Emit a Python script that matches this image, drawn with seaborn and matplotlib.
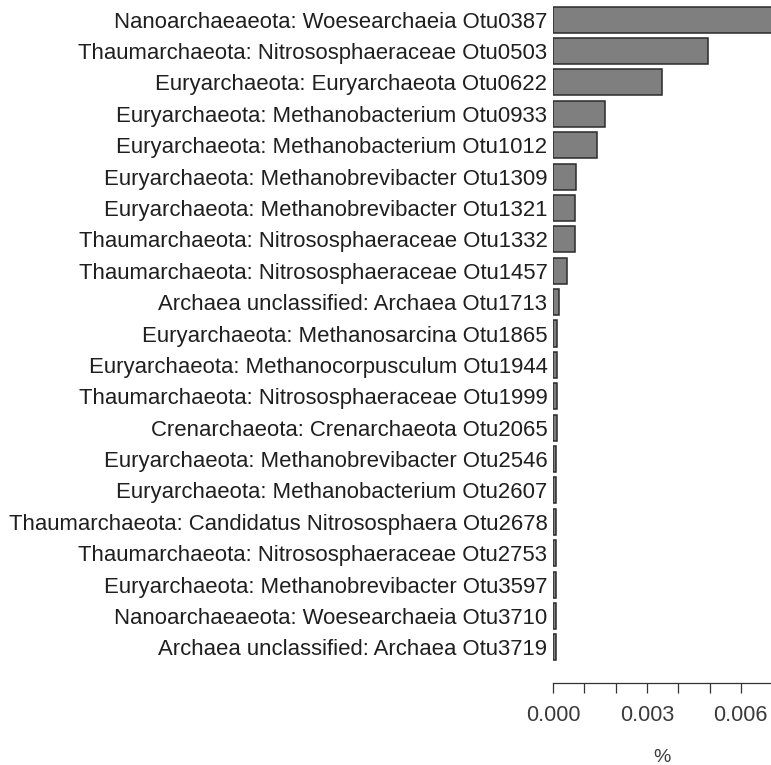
import matplotlib
matplotlib.use("Agg")
import matplotlib.pyplot as plt
import numpy as np
import pandas as pd
import seaborn as sns

taxa = [
    "Nanoarchaeaeota: Woesearchaeia Otu0387",
    "Thaumarchaeota: Nitrososphaeraceae Otu0503",
    "Euryarchaeota: Euryarchaeota Otu0622",
    "Euryarchaeota: Methanobacterium Otu0933",
    "Euryarchaeota: Methanobacterium Otu1012",
    "Euryarchaeota: Methanobrevibacter Otu1309",
    "Euryarchaeota: Methanobrevibacter Otu1321",
    "Thaumarchaeota: Nitrososphaeraceae Otu1332",
    "Thaumarchaeota: Nitrososphaeraceae Otu1457",
    "Archaea unclassified: Archaea Otu1713",
    "Euryarchaeota: Methanosarcina Otu1865",
    "Euryarchaeota: Methanocorpusculum Otu1944",
    "Thaumarchaeota: Nitrososphaeraceae Otu1999",
    "Crenarchaeota: Crenarchaeota Otu2065",
    "Euryarchaeota: Methanobrevibacter Otu2546",
    "Euryarchaeota: Methanobacterium Otu2607",
    "Thaumarchaeota: Candidatus Nitrososphaera Otu2678",
    "Thaumarchaeota: Nitrososphaeraceae Otu2753",
    "Euryarchaeota: Methanobrevibacter Otu3597",
    "Nanoarchaeaeota: Woesearchaeia Otu3710",
    "Archaea unclassified: Archaea Otu3719",
]
abundance = [
    0.0072, 0.00494, 0.00347, 0.00167, 0.00141, 0.00072, 0.00069,
    0.00069, 0.00046, 0.00020, 0.00014, 0.00014, 0.00014, 0.00014,
    0.00010, 0.00010, 0.00010, 0.00010, 0.00010, 0.00010, 0.00010,
]
x_ticks = [0.000, 0.001, 0.002, 0.003, 0.004, 0.005, 0.006]
x_tick_labels = ["0.000", "", "", "0.003", "", "", "0.006"]
x_label = "%"

sns.set_theme(style="white")
plt.rcParams["font.family"] = ["Liberation Sans", "DejaVu Sans"]

df = pd.DataFrame({"taxon": taxa, "pct": abundance})

W, H = 771, 765
fig = plt.figure(figsize=(W / 100, H / 100), dpi=100)
ax = fig.add_axes([553 / W, 1 - 663 / H, (W - 553) / W, (663 - 4) / H])

sns.barplot(data=df, y="taxon", x="pct", orient="h", color="#7f7f7f",
            saturation=1, width=0.83, edgecolor="#2b2b2b", linewidth=1.1,
            ax=ax)

# one thousandth of a percent spans about 31.3 px
ax.set_xlim(0, (W - 553) / 31300)
ax.set_ylim(20.5, -0.5)

for s in ["top", "right", "left"]:
    ax.spines[s].set_visible(False)
ax.spines["bottom"].set_position(("outward", 14.5))
ax.spines["bottom"].set_color("#333333")
ax.spines["bottom"].set_linewidth(0.9)

ax.set_xticks(x_ticks)
ax.set_xticklabels(x_tick_labels, fontsize=15.5, color="#3a3a3a")
ax.tick_params(axis="x", direction="out", length=7, width=0.9,
               color="#333333", pad=9, bottom=True)
ax.tick_params(axis="y", length=0, pad=4, labelsize=15.9,
               labelcolor="#1f1f1f")
ax.set_ylabel("")
ax.set_xlabel(x_label, fontsize=14, color="#3a3a3a", labelpad=16)

fig.savefig("out.png", dpi=100)
